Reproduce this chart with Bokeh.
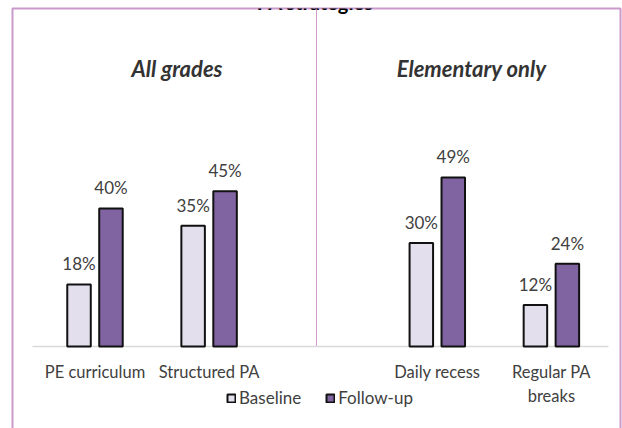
from bokeh.plotting import figure
from bokeh.models import Range1d, ColumnDataSource, LabelSet, Label, Legend, LegendItem
from bokeh.transform import dodge
from bokeh.embed import file_html
from bokeh.resources import INLINE
from bokeh.core.properties import value

# ---------------- data ----------------
title = "PA strategies"
groups = ["All grades", "Elementary only"]
categories = ["PE curriculum", "Structured PA", "Daily recess", "Regular PA breaks"]
tick_labels = ["PE curriculum", "Structured PA", "Daily recess", "Regular PA\nbreaks"]
category_group = [0, 0, 1, 1]
series_names = ["Baseline", "Follow-up"]
baseline = [18, 35, 30, 12]
follow_up = [40, 45, 49, 24]

# ---------------- styling ----------------
BASE_COLOR = "#E4DFEC"
FU_COLOR = "#8064A2"
PINK = "#CC99CC"
FONT = "Lato"

# category slots: one empty slot between the two groups
xpos = [i + g for i, g in enumerate(category_group)]

src = ColumnDataSource(dict(
    x=xpos,
    cat=categories,
    tick=tick_labels,
    base=baseline,
    fu=follow_up,
    base_lbl=[f"{v}%" for v in baseline],
    fu_lbl=[f"{v}%" for v in follow_up],
))

p = figure(width=622, height=430, output_backend="svg", toolbar_location=None,
           x_range=Range1d(-0.723, 4.6056), y_range=Range1d(-24.35, 97.97),
           x_axis_location=None, y_axis_location=None,
           min_border_left=12, min_border_right=2, min_border_top=8, min_border_bottom=0)
p.margin = (0, -8, -10, 0)
p.grid.visible = False
p.outline_line_color = PINK
p.outline_line_width = 2
p.background_fill_color = "white"
p.border_fill_color = "white"

# divider between groups and category axis line
p.segment(x0=1.941, y0=0, x1=1.941, y1=97.97, line_color=PINK, line_width=1)
p.segment(x0=-0.548, y0=0, x1=4.50, y1=0, line_color="#D9D9D9", line_width=1.5)

off = 0.14
bw = 0.206
r1 = p.vbar(x=dodge("x", -off, range=p.x_range), top="base", width=bw, source=src,
            fill_color=BASE_COLOR, line_color="#111111", line_width=2)
r2 = p.vbar(x=dodge("x", off, range=p.x_range), top="fu", width=bw, source=src,
            fill_color=FU_COLOR, line_color="#111111", line_width=2)

for col, lbl, o in (("base", "base_lbl", -off), ("fu", "fu_lbl", off)):
    p.add_layout(LabelSet(x=dodge("x", o, range=p.x_range), y=col, text=lbl, source=src,
                          y_offset=14, text_align="center", text_baseline="alphabetic",
                          text_font=value(FONT), text_font_size="17px", text_color="#404040"))

# category labels (multi-line labels grow downward)
p.text(x="x", y=-4.5, text="tick", source=src, text_align="center",
       text_baseline="top", text_font=value(FONT), text_font_size="16.5px",
       text_color="#404040", text_line_height=1.18)

# group headings
for gx, g in zip((0.719, 3.30), groups):
    p.add_layout(Label(x=gx, y=80.5, text=g, text_align="center", text_baseline="alphabetic",
                       text_font=FONT, text_font_size="22px", text_font_style="bold italic",
                       text_color="#333333"))

# (clipped) chart title
p.add_layout(Label(x=1.93, y=99.9, text=title, text_align="center", text_baseline="alphabetic",
                   text_font=FONT, text_font_size="20px", text_font_style="bold",
                   text_color="#000000"))

legend = Legend(items=[LegendItem(label=series_names[0], renderers=[r1]),
                       LegendItem(label=series_names[1], renderers=[r2])],
                orientation="horizontal", location=(214, 22),
                glyph_width=10, glyph_height=10, label_standoff=3, spacing=24,
                padding=0, margin=0, border_line_color=None, background_fill_alpha=0,
                label_text_font=FONT, label_text_font_size="17px", label_text_color="#404040")
p.add_layout(legend)

open("out.html", "w").write(file_html(p, INLINE))
